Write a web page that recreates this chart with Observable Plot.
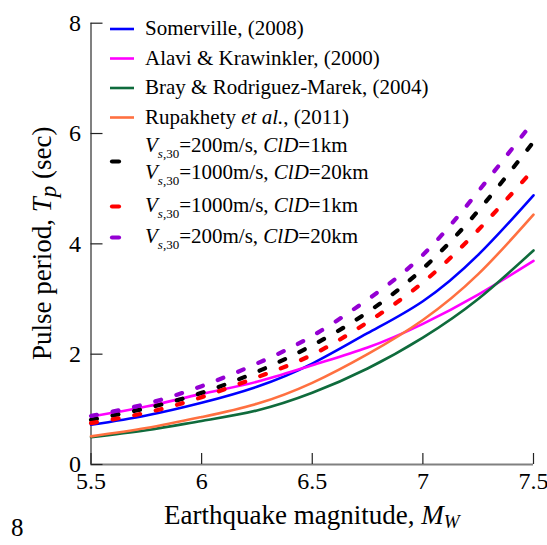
<!DOCTYPE html>
<html><head><meta charset="utf-8">
<script src="https://cdn.jsdelivr.net/npm/d3@7"></script>
<script src="https://cdn.jsdelivr.net/npm/@observablehq/plot@0.6"></script>
<style>
body{margin:0;background:#fff}
#fig{position:relative;width:547px;height:545px;overflow:hidden}
#num{position:absolute;left:11px;top:515px;font-family:"Liberation Serif","DejaVu Serif",serif;font-size:25px;color:#000;line-height:1}
</style>
</head><body><div id="fig"><div id="num">8</div></div>
<script>
// ---- data ----
const Mw = [5.5, 5.75, 6.0, 6.25, 6.5, 6.75, 7.0, 7.25, 7.5];
const somerville = [0.72, 0.89, 1.12, 1.41, 1.83, 2.38, 2.96, 3.80, 4.88];
const alavi      = [0.87, 1.05, 1.28, 1.50, 1.80, 2.12, 2.55, 3.08, 3.69];
const bray       = [0.495, 0.62, 0.79, 0.98, 1.30, 1.74, 2.30, 3.00, 3.88];
const rupakhety  = [0.51, 0.66, 0.86, 1.10, 1.48, 2.00, 2.62, 3.45, 4.53];
const vs200cld1  = [0.81, 1.02, 1.30, 1.68, 2.16, 2.76, 3.55, 4.60, 5.85];
const vs1000cld1 = [0.75, 0.94, 1.22, 1.58, 1.99, 2.58, 3.30, 4.25, 5.35];
const vs200cld20 = [0.88, 1.10, 1.42, 1.83, 2.33, 2.99, 3.80, 4.95, 6.22];
const xTicks = [5.5, 6, 6.5, 7, 7.5];
const yTicks = [0, 2, 4, 6, 8];

const SERIF = '"Liberation Serif", "DejaVu Serif", serif';
const W = 547, H = 505;
const mL = 90.5, mR = 14, mT = 22.7, mB = 41;
const pxPerX = (W - mL - mR) / 2, pxPerY = (H - mT - mB) / 8;

const solid = [
  {name: "somerville", vals: somerville, color: "#0000ff"},
  {name: "alavi", vals: alavi, color: "#ff00ff"},
  {name: "bray", vals: bray, color: "#0f6b3c"},
  {name: "rupakhety", vals: rupakhety, color: "#ff7040"}
];
const dashed = [
  {name: "vs200cld1", vals: vs200cld1, color: "#000000"},
  {name: "vs1000cld1", vals: vs1000cld1, color: "#ff0000"},
  {name: "vs200cld20", vals: vs200cld20, color: "#9400d3"}
];
const rows = s => Mw.map((m, i) => ({Mw: m, Tp: s.vals[i]}));

const marks = [
  Plot.ruleX([5.5], {y1: 0, y2: 8, stroke: "#808080", strokeWidth: 2}),
  Plot.ruleY([0], {x1: 5.5, x2: 7.5, stroke: "#808080", strokeWidth: 2}),
  Plot.ruleX(xTicks, {x: d => d, y1: 0, y2: 11 / pxPerY, stroke: "#222", strokeWidth: 1.2}),
  Plot.ruleY(yTicks, {y: d => d, x1: 5.5, x2: 5.5 + 12 / pxPerX, stroke: "#222", strokeWidth: 1.2})
];
for (const s of solid) marks.push(Plot.line(rows(s), {x: "Mw", y: "Tp", stroke: s.color, strokeWidth: 2.6, curve: "natural"}));
for (const s of dashed) marks.push(Plot.line(rows(s), {x: "Mw", y: "Tp", stroke: s.color, strokeWidth: 4.2, strokeDasharray: "6,16", strokeLinecap: "round", curve: "natural"}));

const plot = Plot.plot({
  width: W, height: H,
  marginLeft: mL, marginRight: mR, marginTop: mT, marginBottom: mB,
  x: {domain: [5.5, 7.5], ticks: xTicks, tickFormat: d => `${d}`, tickSize: 0, tickPadding: 7, label: null},
  y: {domain: [0, 8], ticks: yTicks, tickFormat: d => `${d}`, tickSize: 0, tickPadding: 10, label: null},
  style: {fontFamily: SERIF, fontSize: "24px", color: "#000", background: "#fff", overflow: "visible"},
  marks
});
document.getElementById("fig").prepend(plot);

// ---- rich text helpers ----
const svg = d3.select(plot);
svg.selectAll("text").style("font-family", SERIF);
function rich(sel, segs) {
  for (const s of segs) {
    const t = sel.append("tspan").text(s.t);
    if (s.i) t.attr("font-style", "italic");
    if (s.fs) t.attr("font-size", s.fs);
    if (s.dy) t.attr("dy", s.dy);
  }
  return sel;
}
const V = (rest) => [{t: "V", i: true}, {t: "s", i: true, fs: 13, dy: 6}, {t: ",30", fs: 13}, {t: "=" + rest[0] + ", ", dy: -6}, {t: "ClD", i: true}, {t: "=" + rest[1]}];

// legend
const lg = svg.append("g").style("font-family", SERIF).attr("font-size", 21).attr("fill", "#000").attr("text-anchor", "start");
const legendSolid = [
  {color: "#0000ff", y: 29, base: 35, segs: [{t: "Somerville, (2008)"}]},
  {color: "#ff00ff", y: 58.5, base: 64.5, segs: [{t: "Alavi & Krawinkler, (2000)"}]},
  {color: "#0f6b3c", y: 88, base: 94, segs: [{t: "Bray & Rodriguez-Marek, (2004)"}]},
  {color: "#ff7040", y: 117.5, base: 123.5, segs: [{t: "Rupakhety "}, {t: "et al.", i: true}, {t: ", (2011)"}]}
];
for (const e of legendSolid) {
  lg.append("line").attr("x1", 110).attr("x2", 134).attr("y1", e.y).attr("y2", e.y).attr("stroke", e.color).attr("stroke-width", 2.6);
  rich(lg.append("text").attr("x", 145).attr("y", e.base), e.segs);
}
const legendDash = [
  {color: "#000", y: 161.5, lines: [{base: 152, segs: V(["200m/s", "1km"])}, {base: 178.5, segs: V(["1000m/s", "20km"])}]},
  {color: "#ff0000", y: 206.5, lines: [{base: 212, segs: V(["1000m/s", "1km"])}]},
  {color: "#9400d3", y: 237.5, lines: [{base: 242.5, segs: V(["200m/s", "20km"])}]}
];
for (const e of legendDash) {
  lg.append("line").attr("x1", 112).attr("x2", 119).attr("y1", e.y).attr("y2", e.y).attr("stroke", e.color).attr("stroke-width", 4.2).attr("stroke-linecap", "round");
  for (const l of e.lines) rich(lg.append("text").attr("x", 145).attr("y", l.base), l.segs);
}

// axis titles
rich(svg.append("text").style("font-family", SERIF).attr("font-size", 27).attr("text-anchor", "middle")
  .attr("x", mL + (W - mL - mR) / 2).attr("y", 524),
  [{t: "Earthquake magnitude, "}, {t: "M", i: true}, {t: "W", i: true, fs: 19, dy: 4}]);
rich(svg.append("text").style("font-family", SERIF).attr("font-size", 27).attr("text-anchor", "middle")
  .attr("transform", `translate(51,${mT + (H - mT - mB) / 2}) rotate(-90)`),
  [{t: "Pulse period, "}, {t: "T", i: true}, {t: "p", i: true, fs: 23, dy: 5}, {t: " (sec)", dy: -5}]);
</script>
</body></html>
